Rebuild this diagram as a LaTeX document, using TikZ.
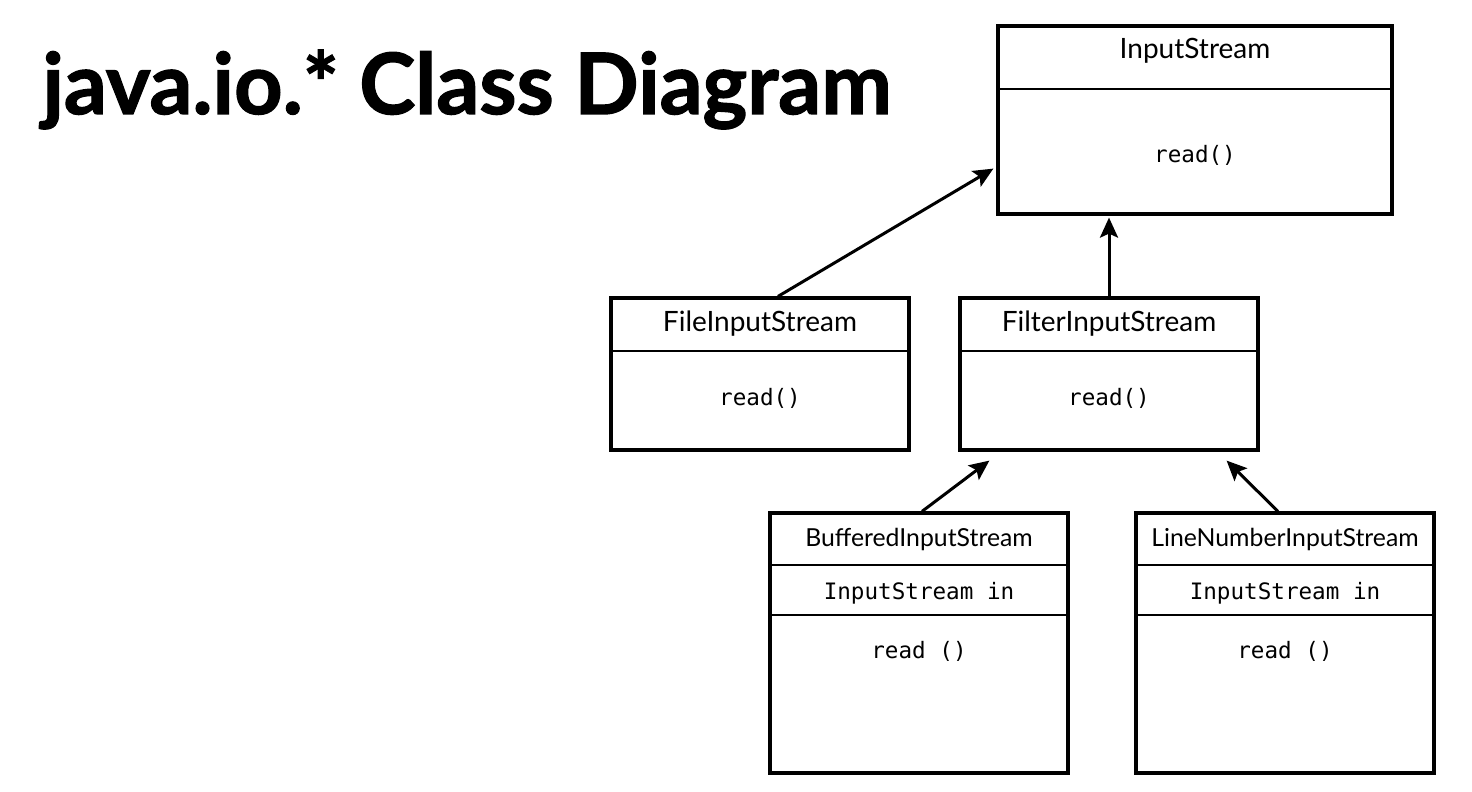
\documentclass[tikz,border=0pt]{standalone}
\usepackage{fontspec}
\setmainfont{Lato}
\newfontfamily\titlefont[FakeBold=1.5]{Lato Bold}
\setmonofont{DejaVu Sans Mono}
\usetikzlibrary{arrows.meta,calc}
\begin{document}
\begin{tikzpicture}[x=0.5pt,y=-0.5pt,
  box/.style={draw=black,line width=1.6pt,rectangle,inner sep=0pt,minimum width=149pt},
  divider/.style={draw=black,line width=1.3pt},
  cls/.style={font=\fontsize{14}{16}\selectfont,inner sep=0pt},
  clsS/.style={font=\fontsize{12.4}{14}\selectfont,inner sep=0pt},
  meth/.style={font=\ttfamily\fontsize{11.3}{13}\selectfont,inner sep=0pt},
  inh/.style={draw=black,line width=1.5pt,-{Stealth[length=10pt,width=9pt,inset=2pt]}}]
\useasboundingbox (0,0) rectangle (1472,792);
\node[anchor=base west,inner sep=0pt,font=\titlefont\fontsize{42.3}{46}\selectfont] (title) at (42,114) {java.io.* Class Diagram};
% InputStream
\node[box,minimum width=197pt,minimum height=94pt] (input) at (1195,120) {};
\draw[divider] (input.west |- 0,89) -- (input.east |- 0,89);
\node[cls] (inputT) at (1195,51) {InputStream};
\node[meth] (inputM) at (1195,155) {read()};
% FileInputStream
\node[box,minimum height=76pt] (file) at (760,374) {};
\draw[divider] (file.west |- 0,351) -- (file.east |- 0,351);
\node[cls] (fileT) at (760,324) {FileInputStream};
\node[meth] (fileM) at (760,398) {read()};
% FilterInputStream
\node[box,minimum height=76pt] (filter) at (1109,374) {};
\draw[divider] (filter.west |- 0,351) -- (filter.east |- 0,351);
\node[cls] (filterT) at (1109,324) {FilterInputStream};
\node[meth] (filterM) at (1109,398) {read()};
% BufferedInputStream
\node[box,minimum height=130pt] (buf) at (919,643) {};
\draw[divider] (buf.west |- 0,565) -- (buf.east |- 0,565);
\draw[divider] (buf.west |- 0,615) -- (buf.east |- 0,615);
\node[clsS] (bufT) at (919,539) {BufferedInputStream};
\node[meth] (bufF) at (919,593) {InputStream in};
\node[meth] (bufM) at (919,651) {read ()};
% LineNumberInputStream
\node[box,minimum height=130pt] (line) at (1285,643) {};
\draw[divider] (line.west |- 0,565) -- (line.east |- 0,565);
\draw[divider] (line.west |- 0,615) -- (line.east |- 0,615);
\node[clsS] (lineT) at (1285,539) {LineNumberInputStream};
\node[meth] (lineF) at (1285,593) {InputStream in};
\node[meth] (lineM) at (1285,651) {read ()};
% connectors
\coordinate (tipA) at ($(input.south west)+(-3,-47)$);
\coordinate (tipB) at ($(filter.south west)+(31,9)$);
\coordinate (tipC) at ($(filter.south east)+(-33,9)$);
\draw[inh] (file.north -| 778,0) -- (tipA);
\draw[inh] (filter.north) -- ($(input.south -| filter.north)+(0,2)$);
\draw[inh] (buf.north -| 922,0) -- (tipB);
\draw[inh] (line.north -| 1278,0) -- (tipC);
\end{tikzpicture}
\end{document}
